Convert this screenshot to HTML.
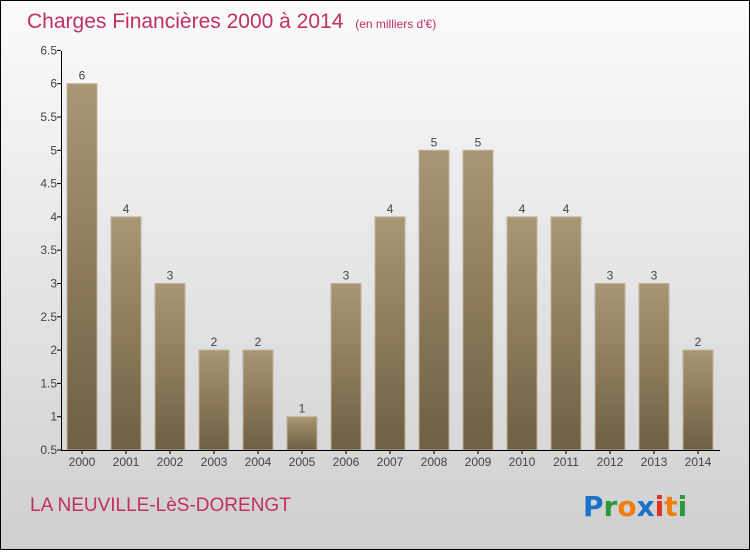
<!DOCTYPE html>
<html><head><meta charset="utf-8"><style>
html,body{margin:0;padding:0}
body{width:750px;height:550px;overflow:hidden;font-family:"Liberation Sans",sans-serif}
</style></head><body>
<svg width="750" height="550" xmlns="http://www.w3.org/2000/svg">
<defs>
<linearGradient id="bg" x1="0" y1="0" x2="0" y2="1"><stop offset="0" stop-color="#fbfbfb"/><stop offset="1" stop-color="#cfcfcf"/></linearGradient>
<linearGradient id="bar" x1="0" y1="0" x2="0" y2="1"><stop offset="0" stop-color="#a89776"/><stop offset="1" stop-color="#6f5f43"/></linearGradient>
</defs>
<rect x="0.5" y="0.5" width="749" height="549" fill="url(#bg)" stroke="#000"/>
<text x="27" y="28" font-size="21" fill="#c2305f">Charges Financières 2000 à 2014 <tspan font-size="12" dx="6">(en milliers d'€)</tspan></text>
<g id="ticks" font-size="12" fill="#444"></g>
<g id="bars"></g>
<line x1="61.5" y1="51" x2="61.5" y2="451" stroke="#000"/>
<line x1="61" y1="450.5" x2="720" y2="450.5" stroke="#000"/>
<text x="30" y="511" font-size="19" fill="#c2305f">LA NEUVILLE-LèS-DORENGT</text>
<g font-size="28" font-weight="bold" font-family="'DejaVu Sans',sans-serif">
<text x="583" y="516"><tspan fill="#1a73c8">P</tspan><tspan fill="#2a9a3a">r</tspan><tspan fill="#f07d10">o</tspan><tspan fill="#1a73c8">x</tspan><tspan fill="#e03020">i</tspan><tspan fill="#f07d10">t</tspan><tspan fill="#2a9a3a">i</tspan></text>
</g>
</svg>
<script>
const years=["2000","2001","2002","2003","2004","2005","2006","2007","2008","2009","2010","2011","2012","2013","2014"];
const values=[6,4,3,2,2,1,3,4,5,5,4,4,3,3,2];
const yTicks=[0.5,1,1.5,2,2.5,3,3.5,4,4.5,5,5.5,6,6.5];
const NS="http://www.w3.org/2000/svg";
const y=v=>450-(v-0.5)*66.6;
const x=i=>82+i*44;
const tg=document.getElementById('ticks');
yTicks.forEach(t=>{
  const l=document.createElementNS(NS,'line');
  l.setAttribute('x1',57);l.setAttribute('x2',61);l.setAttribute('y1',y(t));l.setAttribute('y2',y(t));l.setAttribute('stroke','#000');
  
  
  tg.appendChild(l);
  const tx=document.createElementNS(NS,'text');
  tx.setAttribute('x',57);tx.setAttribute('y',y(t)+4);tx.setAttribute('text-anchor','end');tx.textContent=String(t);
  
  
  tg.appendChild(tx);
});
const bg=document.getElementById('bars');
years.forEach((yr,i)=>{
  const r=document.createElementNS(NS,'rect');
  r.setAttribute('x',x(i)-15);r.setAttribute('width',30);r.setAttribute('y',y(values[i]));r.setAttribute('height',450-y(values[i]));
  r.setAttribute('fill','url(#bar)');r.setAttribute('stroke','#c2b394');r.setAttribute('stroke-width','1');
  
  
  bg.appendChild(r);
  const v=document.createElementNS(NS,'text');
  v.setAttribute('x',x(i));v.setAttribute('y',y(values[i])-4);v.setAttribute('text-anchor','middle');v.setAttribute('font-size','12');v.setAttribute('fill','#444');v.textContent=values[i];
  
  
  bg.appendChild(v);
  const tk=document.createElementNS(NS,'line');
  tk.setAttribute('x1',x(i));tk.setAttribute('x2',x(i));tk.setAttribute('y1',450);tk.setAttribute('y2',454);tk.setAttribute('stroke','#000');
  
  
  bg.appendChild(tk);
  const c=document.createElementNS(NS,'text');
  c.setAttribute('x',x(i));c.setAttribute('y',466);c.setAttribute('text-anchor','middle');c.setAttribute('font-size','12');c.setAttribute('fill','#444');c.textContent=yr;
  
  
  bg.appendChild(c);
});
</script>
</body></html>
